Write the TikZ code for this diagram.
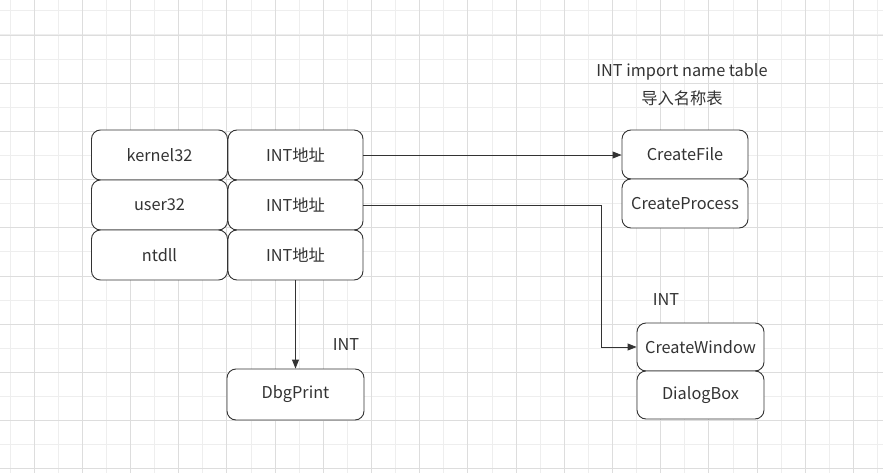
\documentclass[tikz,border=0pt]{standalone}
\usepackage{fontspec}
\setmainfont{Noto Sans CJK SC}
\usetikzlibrary{arrows.meta}

\definecolor{inkgray}{HTML}{333333}
\definecolor{gridminor}{HTML}{EEEEEE}
\definecolor{gridmajor}{HTML}{DDDDDD}

\tikzset{
  entry/.style={draw=inkgray, line width=0.9pt, rounded corners=9pt, fill=white,
    text=inkgray, minimum height=50pt, inner sep=0pt,
    font=\fontsize{16.3}{19}\selectfont},
  label/.style={text=inkgray, inner sep=0pt, font=\fontsize{16.3}{19}\selectfont},
  link/.style={draw=inkgray, line width=0.9pt, -{Triangle[length=9pt,width=7pt]}}
}

\begin{document}
\begin{tikzpicture}[x=1pt, y=-1pt]

\useasboundingbox (0,0) rectangle (883,473);
\fill[white] (0,0) rectangle (883,473);

% grid
\foreach \i in {0,...,36} {
  \draw[gridminor, line width=0.8pt] (9.9+24.1*\i,0) -- (9.9+24.1*\i,473);
}
\foreach \i in {0,...,19} {
  \draw[gridminor, line width=0.8pt] (0,10.8+24.1*\i) -- (883,10.8+24.1*\i);
}
\foreach \i in {0,...,18} {
  \draw[gridmajor, line width=0.8pt] (34+48.2*\i,0) -- (34+48.2*\i,473);
}
\foreach \i in {0,...,9} {
  \draw[gridmajor, line width=0.8pt] (0,35+48.2*\i) -- (883,35+48.2*\i);
}

% import directory
\node[entry, minimum width=136pt] (kernel) at (159.5,155) {kernel32};
\node[entry, minimum width=136pt] (user) at (159.5,205) {user32};
\node[entry, minimum width=136pt] (ntdll) at (159.5,255) {ntdll};

\node[entry, minimum width=135pt] (kint) at (295.5,155) {INT地址};
\node[entry, minimum width=135pt] (uint) at (295.5,205) {INT地址};
\node[entry, minimum width=135pt] (nint) at (295.5,255) {INT地址};

% name tables
\node[label] (title) at (682,72) {INT import name table};
\node[label] (subtitle) at (682,98) {导入名称表};

\node[entry, minimum width=126pt, minimum height=49pt] (cfile) at (685,154.5) {CreateFile};
\node[entry, minimum width=126pt, minimum height=49pt] (cproc) at (685,203.5) {CreateProcess};

\node[label] (uintlabel) at (666,300) {INT};
\node[entry, minimum width=127pt, minimum height=48pt] (cwin) at (700.5,347) {CreateWindow};
\node[entry, minimum width=127pt, minimum height=48pt] (dlg) at (700.5,395) {DialogBox};

\node[label] (nintlabel) at (346,345) {INT};
\node[entry, minimum width=137pt, minimum height=51pt] (dbg) at (295.5,394.5) {DbgPrint};

% links
\coordinate (bend) at (601,205);
\draw[link] (kint.east) -- (cfile.west |- kint.east);
\draw[link] (uint.east) -- (bend) |- (cwin.west);
\draw[link] (nint.south) -- (dbg.north);

\end{tikzpicture}
\end{document}
